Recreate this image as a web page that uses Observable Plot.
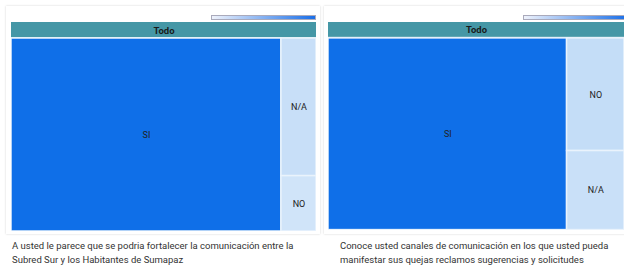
<!DOCTYPE html>
<html>
<head>
<meta charset="utf-8">
<script src="https://cdn.jsdelivr.net/npm/d3@7"></script>
<script src="https://cdn.jsdelivr.net/npm/@observablehq/plot@0.6"></script>
<style>
  html, body { margin: 0; padding: 0; background: #fff; }
  body { width: 624px; height: 268px; overflow: hidden; position: relative; font-family: Roboto, "Noto Sans", sans-serif; }
  .card { position: absolute; background: #fff; box-shadow: 0 0 2px rgba(0,0,0,0.18); }
  .chart { position: absolute; }
  .ramp { position: absolute; height: 3px; border: 1px solid #aab; background: linear-gradient(to right, #eef2fb, #1a6fe8); }
  .caption { position: absolute; font-size: 9.5px; line-height: 14px; color: #333; white-space: nowrap; }
</style>
</head>
<body>
<div class="card" style="left:6px;top:6px;width:314px;height:228px"></div>
<div class="card" style="left:324px;top:6px;width:314px;height:228px"></div>
<div class="ramp" style="left:211px;top:15px;width:103px"></div>
<div class="ramp" style="left:523px;top:15px;width:103px"></div>
<div id="c1" class="chart" style="left:11px;top:22px"></div>
<div id="c2" class="chart" style="left:328px;top:22px"></div>
<div id="t1" class="caption" style="left:12px;top:239px"></div>
<div id="t2" class="caption" style="left:340px;top:239px"></div>
<script>
// ---- data ----
const rootLabel = "Todo";
const leftLabels = ["SI", "N/A", "NO"];
const leftValues = [88.5, 8.2, 3.3];
const rightLabels = ["SI", "NO", "N/A"];
const rightValues = [80.6, 11.4, 8.0];
const leftCaption = ["A usted le parece que se podria fortalecer la comunicación entre la", "Subred Sur y los Habitantes de Sumapaz"];
const rightCaption = ["Conoce usted canales de comunicación en los que usted pueda", "manifestar sus quejas reclamos sugerencias y solicitudes"];

const HEADER = 16;

function drawTreemap(el, labels, values, w, h) {
  const data = {name: rootLabel, children: labels.map((l, i) => ({name: l, value: values[i]}))};
  const root = d3.hierarchy(data).sum(d => d.value || 0).sort((a, b) => b.value - a.value);
  d3.treemap().tile(d3.treemapSquarify).size([w, h]).paddingTop(HEADER).round(false)(root);
  const leaves = root.leaves();
  const top = [root];
  const plot = Plot.plot({
    width: w, height: h, margin: 0,
    style: {background: "transparent", fontFamily: "Roboto, sans-serif"},
    x: {domain: [0, w], range: [0, w], axis: null},
    y: {domain: [0, h], range: [0, h], axis: null},
    color: {type: "linear", domain: [3, 12, 60], range: ["#d0e4f9", "#c3dcf7", "#0f6fe8"], clamp: true},
    marks: [
      Plot.rect(top, {x1: "x0", x2: "x1", y1: "y0", y2: d => d.y0 + HEADER - 1, fill: "#4597a6"}),
      Plot.rect(top, {x1: "x0", x2: "x1", y1: d => d.y0 + HEADER - 1, y2: d => d.y0 + HEADER, fill: "#cfe9ee"}),
      Plot.text(top, {x: d => (d.x0 + d.x1) / 2, y: d => d.y0 + HEADER / 2, text: d => d.data.name, fontWeight: "bold", fontSize: 9.5, fill: "#1a1a1a"}),
      Plot.rect(leaves, {x1: "x0", x2: "x1", y1: "y0", y2: "y1", fill: d => d.value, stroke: "#eaf3fc", strokeWidth: 1.5}),
      Plot.text(leaves, {x: d => (d.x0 + d.x1) / 2, y: d => (d.y0 + d.y1) / 2, text: d => d.data.name, fontSize: 9, fill: "#222"})
    ]
  });
  document.getElementById(el).append(plot);
}

drawTreemap("c1", leftLabels, leftValues, 305, 209);
drawTreemap("c2", rightLabels, rightValues, 298, 209);

document.getElementById("t1").innerHTML = leftCaption.join("<br>");
document.getElementById("t2").innerHTML = rightCaption.join("<br>");
</script>
</body>
</html>
